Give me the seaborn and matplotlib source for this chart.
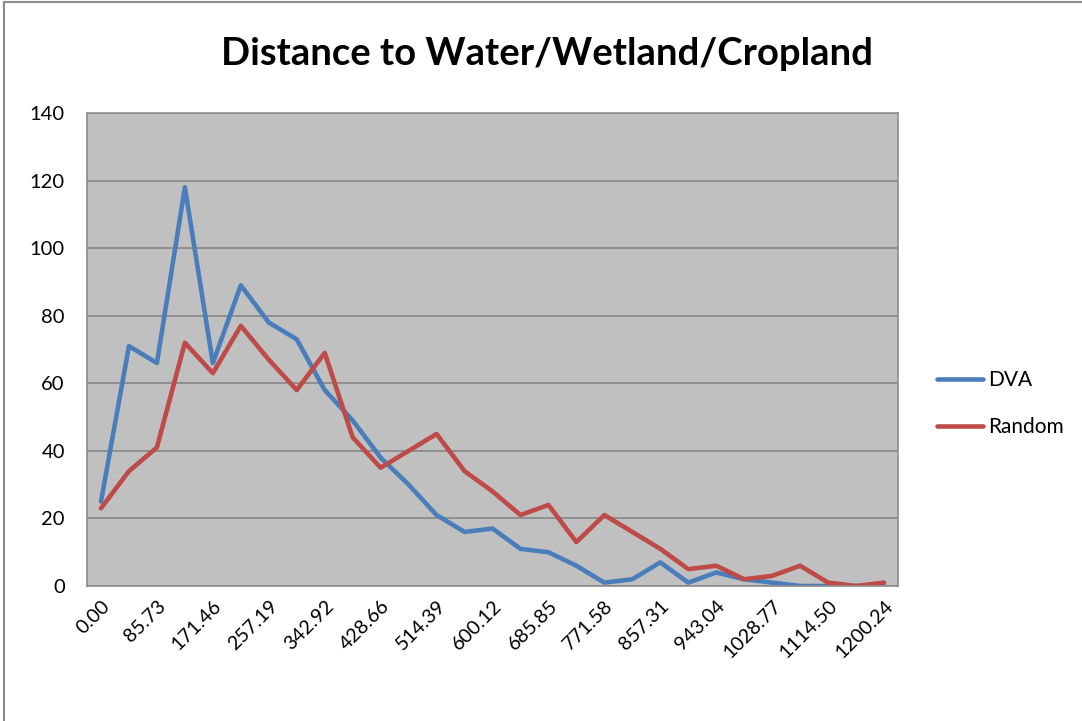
"""Distance to Water/Wetland/Cropland: DVA vs Random (line chart)."""

import matplotlib
matplotlib.use("Agg")
import matplotlib.pyplot as plt
import matplotlib.transforms as mtransforms
import pandas as pd
import seaborn as sns

# Categorias do eixo x (distancia, m) - so metade aparece no grafico.
DISTANCES = [
    "0.00", "42.87", "85.73", "128.60", "171.46", "214.33", "257.19", "300.06",
    "342.92", "385.79", "428.66", "471.52", "514.39", "557.25", "600.12", "642.98",
    "685.85", "728.72", "771.58", "814.45", "857.31", "900.18", "943.04", "985.91",
    "1028.77", "1071.64", "1114.50", "1157.37", "1200.24",
]

DVA = [25, 71, 66, 118, 66, 89, 78, 73, 58, 49, 38, 30, 21, 16, 17, 11, 10, 6,
       1, 2, 7, 1, 4, 2, 1, 0, 0, 0, 0]
RANDOM = [23, 34, 41, 72, 63, 77, 67, 58, 69, 44, 35, 40, 45, 34, 28, 21, 24, 13,
          21, 16, 11, 5, 6, 2, 3, 6, 1, 0, 1]

SERIES = {"DVA": DVA, "Random": RANDOM}
PALETTE = {"DVA": "#4A7EBB", "Random": "#BE4B48"}
Y_TICKS = [0, 20, 40, 60, 80, 100, 120, 140]

W, H = 1082, 721


def main() -> None:
    sns.set_style("white")
    plt.rcParams["font.family"] = ["Lato", "DejaVu Sans"]
    plt.rcParams["text.color"] = "#000000"

    rows = []
    for name, values in SERIES.items():
        for i, v in enumerate(values):
            rows.append({"pos": i, "series": name, "count": v})
    df = pd.DataFrame(rows)

    fig = plt.figure(figsize=(W / 100, H / 100), dpi=100)
    ax = fig.add_axes([87 / W, 1 - 586 / H, (898 - 87) / W, (586 - 113) / H])
    ax.set_facecolor("#C0C0C0")

    sns.lineplot(
        data=df,
        x="pos",
        y="count",
        hue="series",
        palette=PALETTE,
        linewidth=3.3,
        ax=ax,
    )

    n = len(DISTANCES)
    ax.set_xlim(-0.5, n - 0.5)
    ax.set_ylim(0, 140)
    ax.set_yticks(Y_TICKS)
    ax.set_yticklabels([str(t) for t in Y_TICKS], fontsize=14.5)
    ax.set_xticks(range(0, n, 2))
    ax.set_xticklabels(DISTANCES[::2], rotation=45, ha="right",
                       rotation_mode="anchor", fontsize=14.2)
    shift = mtransforms.ScaledTranslation(9 / 100, -7 / 100, fig.dpi_scale_trans)
    for lbl in ax.get_xticklabels():
        lbl.set_transform(lbl.get_transform() + shift)
    ax.tick_params(axis="both", length=0, pad=8, colors="#000000")
    ax.tick_params(axis="y", pad=16)
    ax.set_xlabel("")
    ax.set_ylabel("")

    ax.yaxis.grid(True, color="#868686", linewidth=1.2)
    ax.xaxis.grid(False)
    ax.set_axisbelow(True)
    for sp in ax.spines.values():
        sp.set_color("#8C8C8C")
        sp.set_linewidth(1.2)

    sns.move_legend(
        ax,
        "center left",
        bbox_to_anchor=(937 / W, 1 - 403.5 / H),
        bbox_transform=fig.transFigure,
        frameon=False,
        title=None,
        fontsize=15,
        handlelength=2.2,
        handletextpad=0.25,
        labelspacing=1.3,
        borderpad=0,
        borderaxespad=0,
        labelcolor="#000000",
    )

    fig.text(547 / W, 1 - 54 / H, "Distance to Water/Wetland/Cropland",
             ha="center", va="center", fontsize=27.5, fontweight="bold",
             color="#000000")

    # Borda externa do grafico (estilo Excel).
    fig.add_artist(plt.Line2D([4 / W, 4 / W], [0, 1 - 2 / H], color="#8C8C8C",
                              linewidth=1.5, transform=fig.transFigure))
    fig.add_artist(plt.Line2D([4 / W, 1], [1 - 2 / H, 1 - 2 / H], color="#8C8C8C",
                              linewidth=1.5, transform=fig.transFigure))

    fig.savefig("out.png", dpi=100)
    plt.close(fig)


if __name__ == "__main__":
    main()
